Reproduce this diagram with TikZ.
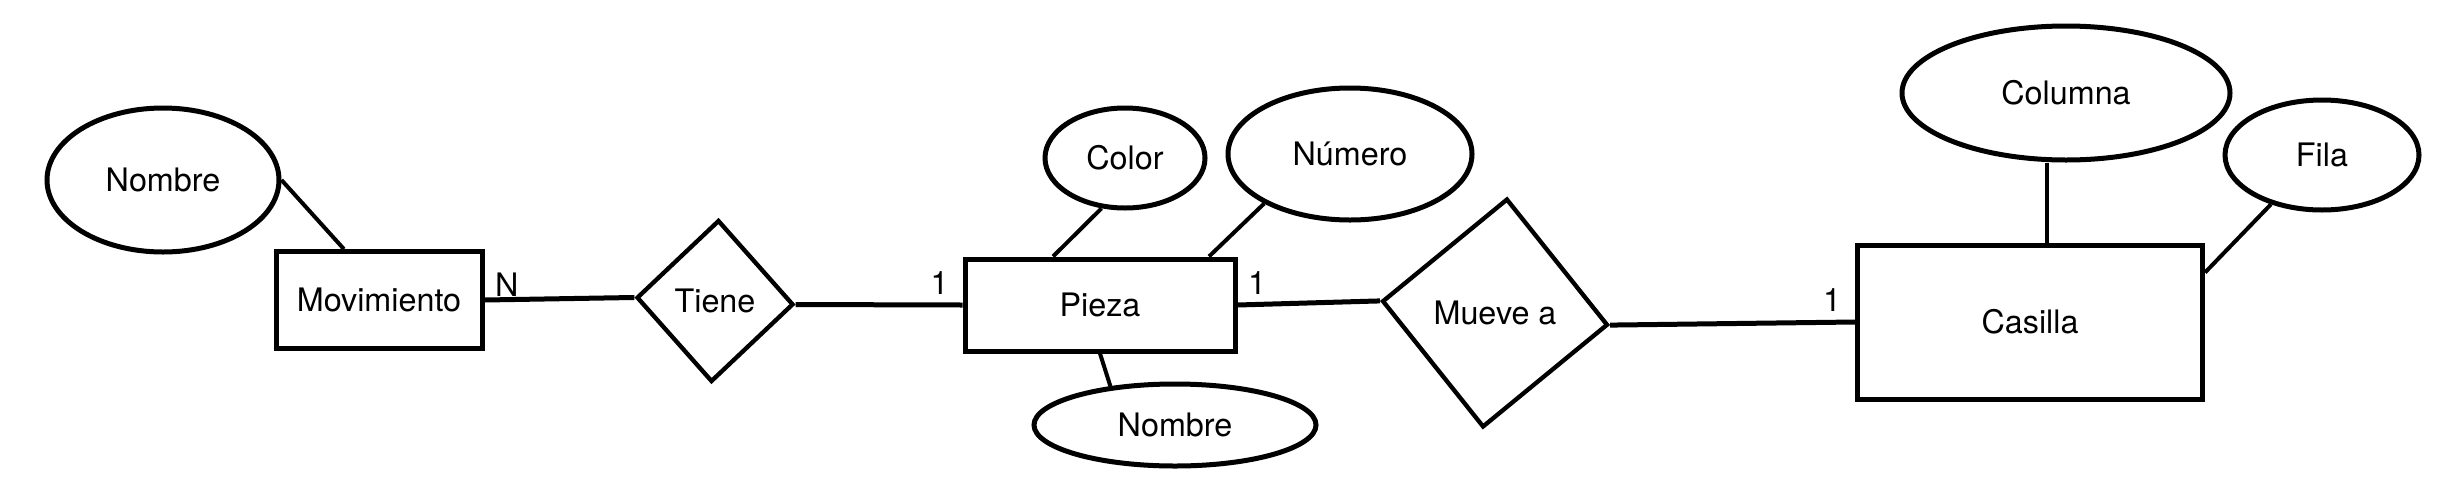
\documentclass[tikz,border=0pt]{standalone}
\usepackage{fontspec}
\setmainfont{TeX Gyre Heros}
\usetikzlibrary{shapes.geometric, positioning}

\begin{document}
\begin{tikzpicture}[
    x=0.3pt, y=-0.3pt,
    % 定义节点的样式
    entidad/.style={rectangle, draw, line width=1.5pt, inner sep=0pt, font=\fontsize{9.7}{11}\selectfont},
    atributo/.style={ellipse, draw, line width=1.5pt, inner sep=0pt, font=\fontsize{9.7}{11}\selectfont},
    relacion/.style={diamond, draw, line width=1.3pt, inner sep=0pt},
    texto/.style={inner sep=0pt, font=\fontsize{9.7}{11}\selectfont},
    card/.style={inner sep=1pt, font=\fontsize{9.7}{11}\selectfont},
    linea/.style={line width=1.5pt},
    attr/.style={line width=1.2pt}
]
\useasboundingbox (0,0) rectangle (2452,502);

% --- 实体 ---
\node (mov) [entidad, minimum width=61.8pt, minimum height=29pt] at (379,300) {Movimiento};
\node (pieza) [entidad, minimum width=81pt, minimum height=27.6pt] at (1100,305) {Pieza};
\node (casilla) [entidad, minimum width=103.5pt, minimum height=46.2pt] at (2030,322) {Casilla};

% --- 关系 (略微倾斜的菱形) ---
\node (tiene) [relacion, rotate=-2.5, minimum width=47.1pt, minimum height=48.6pt] at (715,301) {};
\node (tieneT) [texto] at (tiene.center) {Tiene};
\node (mueve) [relacion, rotate=-6, minimum width=68.1pt, minimum height=69pt] at (1495,313) {};
\node (mueveT) [texto] at (mueve.center) {Mueve a};

% --- 属性 ---
\node (nombreM) [atributo, minimum width=69.6pt, minimum height=43.2pt] at (163,180) {Nombre};
\node (color) [atributo, minimum width=48pt, minimum height=30pt] at (1125,158) {Color};
\node (numero) [atributo, minimum width=73.2pt, minimum height=39.6pt] at (1350,154) {Número};
\node (nombreP) [atributo, minimum width=84.6pt, minimum height=24.6pt] at (1175,425) {Nombre};
\node (columna) [atributo, minimum width=98.4pt, minimum height=40.2pt] at (2066,93) {Columna};
\node (fila) [atributo, minimum width=58.2pt, minimum height=33pt] at (2322,155) {Fila};

% --- 连线 ---
\draw [linea] (mov.east) -- (tiene.west);
\draw [linea] (tiene.east) -- (pieza.west);
\draw [linea] (pieza.east) -- (mueve.west);
\draw [linea] (mueve.east) -- (casilla.west);

\draw [attr] (nombreM.east) -- ([xshift=-10.5pt]mov.north);
\draw [attr] (color.-115) -- ([xshift=-14.1pt]pieza.north);
\draw [attr] (numero.210) -- ([xshift=32.7pt]pieza.north);
\draw [attr] (pieza.south) -- (nombreP.149);
\coordinate (colpie) at ([xshift=5.1pt]casilla.north);
\draw [attr] (colpie) -- (colpie |- columna.south);
\draw [attr] ([yshift=-9pt]casilla.north east) -- (fila.224);

% --- 基数 ---
\node (cardN) [card, above right=0pt and 2pt of mov.east] {N};
\node (card1a) [card, above left=2pt and 3pt of pieza.west] {1};
\node (card1b) [card, above right=2pt and 2pt of pieza.east] {1};
\node (card1c) [card, above left=2pt and 3pt of casilla.west] {1};

\end{tikzpicture}
\end{document}
